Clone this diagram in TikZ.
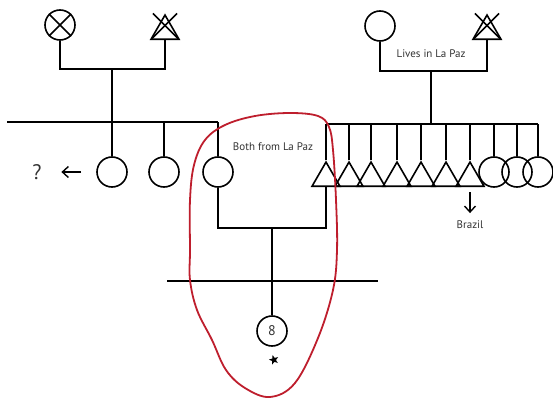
\documentclass[tikz,border=0pt]{standalone}
\usepackage{fontspec}
\setmainfont{PT Sans}
\usetikzlibrary{arrows.meta,positioning,shapes.geometric}
\definecolor{loopred}{RGB}{190,30,45}

\begin{document}
\begin{tikzpicture}[
    x=1pt, y=-1pt,
    line width=1.6pt,
    female/.style={draw, circle, minimum size=30pt, inner sep=0pt},
    male/.style={draw, regular polygon, regular polygon sides=3,
        minimum size=32.3pt, inner sep=0pt},
    remark/.style={font=\fontsize{11}{13}\selectfont, text=black!80, inner sep=0pt},
    away/.style={-{Straight Barb[length=6pt,width=11pt]}, line width=1.4pt},
    focusline/.style={draw=loopred, line width=1.8pt}
]
\useasboundingbox (0,0) rectangle (553,398);

% mother's parents
\node[female] (gmother1) at (60,25) {};
\node[male] (gfather1) at (165,31.2) {};
\coordinate (couple1) at (112,69);
\draw (gmother1.south) |- (couple1) -| (gfather1.south);
\coordinate (sib1w) at (7,122);
\coordinate (sib1e) at (218,122);
\draw (couple1) -- (couple1 |- sib1w);
\draw (sib1w) -- (sib1e);
\node[female] (aunt1) at (112,172) {};
\node[female] (aunt2) at (164,172) {};
\node[female] (mother) at (218,172) {};
\foreach \n in {aunt1,aunt2,mother}
    \draw (\n.north) -- (\n.north |- sib1w);
\node[font=\fontsize{21}{24}\selectfont, text=black!80, inner sep=0pt] (unknown) at (37,172) {?};
\draw[away, shorten <=15pt, shorten >=19pt] (aunt1.west) -- (unknown.east);

% father's parents
\node[female] (gmother2) at (380,26) {};
\node[male] (gfather2) at (487,31.2) {};
\node[remark] (lapaz) at (431,54) {Lives in La Paz};
\coordinate (couple2) at (431,71);
\draw (gmother2.south) |- (couple2) -| (gfather2.south);
\coordinate (sib2w) at (326,124);
\coordinate (sib2e) at (538,124);
\draw (couple2) -- (couple2 |- sib2w);
\draw (sib2w) -- (sib2e);
\node[male] (father) at (326,178.2) {};
\foreach \x [count=\i] in {349,371,397,421,446,470}
    \node[male] (uncle\i) at (\x,178.2) {};
\foreach \x [count=\i from 3] in {494,517,538}
    \node[female] (aunt\i) at (\x,172) {};
\foreach \n in {father,uncle1,uncle2,uncle3,uncle4,uncle5,uncle6,aunt3,aunt4,aunt5}
    \draw (\n.north) -- (\n.north |- sib2w);
\node[remark, below=33pt of uncle6.south] (brazil) {Brazil};
\draw[away, shorten <=5pt, shorten >=7pt] (uncle6.south) -- (brazil.north);

% deceased
\draw (gmother1.north west) -- (gmother1.south east)
      (gmother1.north east) -- (gmother1.south west);
\foreach \n in {gfather1,gfather2} {
    \draw ([shift={(-12,0)}]\n.north) -- ([shift={(13,25)}]\n.north);
    \draw ([shift={(12,0)}]\n.north) -- ([shift={(-13,25)}]\n.north);
}

% parents and child
\node[remark] (bothlapaz) at (273,147) {Both from La Paz};
\coordinate (couple3) at (272,228);
\draw (mother.south) |- (couple3) -| (father.south);
\coordinate (sib3w) at (167,281);
\coordinate (sib3e) at (378,281);
\draw (couple3) -- (couple3 |- sib3w);
\draw (sib3w) -- (sib3e);
\node[female, font=\fontsize{14}{16}\selectfont, text=black!80] (ego) at (272,331) {8};
\draw (ego.north) -- (ego.north |- sib3w);
\node[star, star points=5, star point ratio=2.4, fill=black, draw=none,
    minimum size=10pt, inner sep=0pt, rotate=15, below=6pt of ego] (marker) {};

% red outline
\draw[focusline] plot[smooth cycle, tension=0.6] coordinates {
    (190,250) (190,200) (194,165) (205,140) (225,125) (255,116) (290,113)
    (318,116) (329,127) (333,150) (336,200) (337,250) (333,290) (318,338)
    (295,383) (270,397) (245,388) (226,370) (212,340) (197,310) (190,280)};
\end{tikzpicture}
\end{document}
